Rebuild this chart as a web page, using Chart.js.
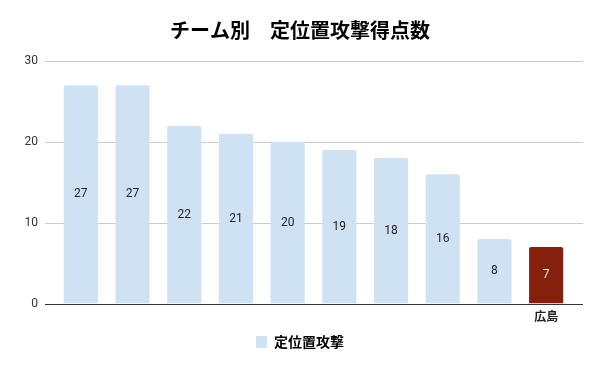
<!DOCTYPE html>
<html>
<head>
<meta charset="utf-8">
<script src="https://cdn.jsdelivr.net/npm/chart.js@4"></script>
<style>
  body { margin: 0; background: #fff; }
  #wrap { width: 600px; height: 371px; }
</style>
</head>
<body>
<div id="wrap"><canvas id="myChart" width="600" height="371"></canvas></div>
<script>
const categories = ["", "", "", "", "", "", "", "", "", "広島"];
const points = [27, 27, 22, 21, 20, 19, 18, 16, 8, 7];
const yTicks = [0, 10, 20, 30];
const seriesName = "定位置攻撃";

const barColors = points.map((v, i) => (categories[i] === "広島" ? "#85200c" : "#cfe2f3"));

// gridlines + baseline run a bit wider than the bars' area
const gridLines = {
  id: "gridLines",
  beforeDatasetsDraw(chart) {
    const c = chart.ctx;
    const area = chart.chartArea;
    const y = chart.scales.y;
    c.save();
    yTicks.forEach((v) => {
      const py = Math.round(y.getPixelForValue(v)) + 0.5;
      c.strokeStyle = v === 0 ? "#333333" : "#cccccc";
      c.lineWidth = 1;
      c.beginPath();
      c.moveTo(area.left - 10, py);
      c.lineTo(area.right + 11, py);
      c.stroke();
    });
    c.restore();
  },
};

// value labels in the middle of each bar
const barLabels = {
  id: "barLabels",
  afterDatasetsDraw(chart) {
    const c = chart.ctx;
    const meta = chart.getDatasetMeta(0);
    c.save();
    c.font = "12px Roboto, sans-serif";
    c.textAlign = "center";
    c.textBaseline = "middle";
    meta.data.forEach((bar, i) => {
      const p = bar.getProps(["x", "y", "base"], true);
      c.fillStyle = categories[i] === "広島" ? "#f3e0dc" : "#222222";
      c.fillText(String(points[i]), p.x, (p.y + p.base) / 2);
    });
    c.restore();
  },
};

const ctx = document.getElementById("myChart");
new Chart(ctx, {
  type: "bar",
  data: {
    labels: categories,
    datasets: [
      {
        label: seriesName,
        data: points,
        backgroundColor: barColors,
        borderWidth: 0,
        borderRadius: { topLeft: 2, topRight: 2 },
        borderSkipped: "bottom",
        categoryPercentage: 1,
        barPercentage: 0.66,
      },
    ],
  },
  options: {
    responsive: false,
    maintainAspectRatio: false,
    animation: false,
    layout: { padding: { left: 0, right: 0, top: 0, bottom: 12 } },
    plugins: {
      title: {
        display: true,
        text: "チーム別　定位置攻撃得点数",
        font: { family: "'Noto Sans CJK JP'", size: 20, weight: "bold" },
        color: "#000",
        padding: { top: 18, bottom: 19 },
      },
      legend: {
        position: "bottom",
        labels: {
          generateLabels: () => [
            { text: seriesName, fillStyle: "#cfe2f3", strokeStyle: "#cfe2f3", lineWidth: 0 },
          ],
          boxWidth: 11,
          boxHeight: 12,
          font: { family: "'Noto Sans CJK JP'", size: 14, weight: "bold" },
          color: "#222",
          padding: 5,
        },
      },
      tooltip: { enabled: false },
    },
    scales: {
      x: {
        grid: { display: false, drawTicks: false },
        border: { display: false },
        ticks: {
          font: { family: "'Noto Sans CJK JP'", size: 12, weight: "bold" },
          color: "#222",
          padding: 6,
          autoSkip: false,
          maxRotation: 0,
        },
      },
      y: {
        min: 0,
        max: 30,
        afterBuildTicks: (axis) => {
          axis.ticks = yTicks.map((v) => ({ value: v }));
        },
        afterFit: (axis) => {
          axis.width = 55;
        },
        grid: { display: false, drawTicks: false },
        border: { display: false },
        ticks: {
          font: { family: "Roboto", size: 12 },
          color: "#333",
          padding: 17,
        },
      },
      // empty right-hand axis, only keeps space so the title stays centred
      yRight: {
        position: "right",
        min: 0,
        max: 30,
        afterFit: (axis) => {
          axis.width = 28;
        },
        grid: { display: false, drawTicks: false },
        border: { display: false },
        ticks: { display: false },
      },
    },
  },
  plugins: [gridLines, barLabels],
});
</script>
</body>
</html>
